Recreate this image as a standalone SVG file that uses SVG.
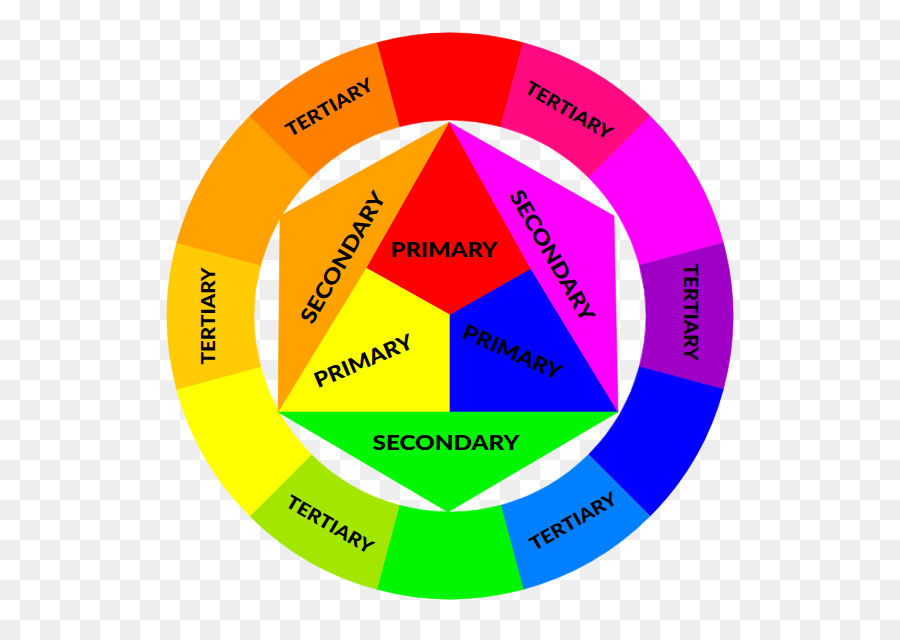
<svg xmlns="http://www.w3.org/2000/svg" width="900" height="640" viewBox="0 0 900 640">
  <defs>
    <pattern id="checker" x="0" y="0" width="40" height="40" patternUnits="userSpaceOnUse">
      <rect width="40" height="40" fill="#ffffff"/>
      <rect x="20" y="0" width="20" height="20" fill="#eeeeee"/>
      <rect x="0" y="20" width="20" height="20" fill="#eeeeee"/>
    </pattern>
    <style>
      .lbl { font-family: Lato, "Open Sans", "Liberation Sans", sans-serif; font-weight: 900; fill: #000000; text-anchor: middle; dominant-baseline: central; }
      .in { font-size: 21px; }
      .ter { font-size: 18.5px; }
      .seg { stroke-width: 0.6; }
    </style>
  </defs>
  <rect id="background" x="0" y="0" width="900" height="640" fill="url(#checker)"/>

  <g id="ring">
    <g id="seg-red"><path class="seg" fill="#ff0000" stroke="#ff0000" d="M376.754 42.643 A283 283 0 0 1 523.246 42.643 L500.729 126.679 A196 196 0 0 0 399.271 126.679 Z"/></g>
    <g id="seg-red-violet"><path class="seg" fill="#ff0a80" stroke="#ff0a80" d="M523.246 42.643 A283 283 0 0 1 650.111 115.889 L588.593 177.407 A196 196 0 0 0 500.729 126.679 Z"/></g>
    <g id="seg-violet"><path class="seg" fill="#ff00ff" stroke="#ff00ff" d="M650.111 115.889 A283 283 0 0 1 723.357 242.754 L639.321 265.271 A196 196 0 0 0 588.593 177.407 Z"/></g>
    <g id="seg-purple"><path class="seg" fill="#a000c6" stroke="#a000c6" d="M723.357 242.754 A283 283 0 0 1 723.357 389.246 L639.321 366.729 A196 196 0 0 0 639.321 265.271 Z"/></g>
    <g id="seg-blue"><path class="seg" fill="#0000ff" stroke="#0000ff" d="M723.357 389.246 A283 283 0 0 1 650.111 516.111 L588.593 454.593 A196 196 0 0 0 639.321 366.729 Z"/></g>
    <g id="seg-blue-green"><path class="seg" fill="#0080ff" stroke="#0080ff" d="M650.111 516.111 A283 283 0 0 1 523.246 589.357 L500.729 505.321 A196 196 0 0 0 588.593 454.593 Z"/></g>
    <g id="seg-green"><path class="seg" fill="#00f500" stroke="#00f500" d="M523.246 589.357 A283 283 0 0 1 376.754 589.357 L399.271 505.321 A196 196 0 0 0 500.729 505.321 Z"/></g>
    <g id="seg-yellow-green"><path class="seg" fill="#a3e600" stroke="#a3e600" d="M376.754 589.357 A283 283 0 0 1 249.889 516.111 L311.407 454.593 A196 196 0 0 0 399.271 505.321 Z"/></g>
    <g id="seg-yellow"><path class="seg" fill="#ffff00" stroke="#ffff00" d="M249.889 516.111 A283 283 0 0 1 176.643 389.246 L260.679 366.729 A196 196 0 0 0 311.407 454.593 Z"/></g>
    <g id="seg-yellow-orange"><path class="seg" fill="#ffcb05" stroke="#ffcb05" d="M176.643 389.246 A283 283 0 0 1 176.643 242.754 L260.679 265.271 A196 196 0 0 0 260.679 366.729 Z"/></g>
    <g id="seg-orange"><path class="seg" fill="#ffa200" stroke="#ffa200" d="M176.643 242.754 A283 283 0 0 1 249.889 115.889 L311.407 177.407 A196 196 0 0 0 260.679 265.271 Z"/></g>
    <g id="seg-red-orange"><path class="seg" fill="#ff8000" stroke="#ff8000" d="M249.889 115.889 A283 283 0 0 1 376.754 42.643 L399.271 126.679 A196 196 0 0 0 311.407 177.407 Z"/></g>
  </g>

  <g id="inner">
    <g id="primary-red"><polygon class="seg" fill="#ff0000" stroke="#ff0000" points="449,122 366,268 450,315 531,269"/></g>
    <g id="primary-yellow"><polygon class="seg" fill="#ffff00" stroke="#ffff00" points="366,268 450,315 450,412 278,412"/></g>
    <g id="primary-blue"><polygon class="seg" fill="#0000ff" stroke="#0000ff" points="450,315 531,269 618,412 450,412"/></g>
    <g id="secondary-orange"><polygon class="seg" fill="#ffa200" stroke="#ffa200" points="449,122 280,216 278,412 366,268"/></g>
    <g id="secondary-violet"><polygon class="seg" fill="#ff00ff" stroke="#ff00ff" points="449,122 614,216 618,412 531,269"/></g>
    <g id="secondary-green"><polygon class="seg" fill="#00f500" stroke="#00f500" points="278,412 618,412 448,512"/></g>
  </g>

  <g id="labels">
    <text class="lbl in" x="444" y="248" textLength="107" lengthAdjust="spacingAndGlyphs">PRIMARY</text>
    <text class="lbl in" transform="translate(363 360) rotate(-23)" x="0" y="0" textLength="105" lengthAdjust="spacingAndGlyphs">PRIMARY</text>
    <text class="lbl in" transform="translate(513 351) rotate(24)" x="0" y="0" textLength="106" lengthAdjust="spacingAndGlyphs">PRIMARY</text>
    <text class="lbl in" transform="translate(342 257) rotate(-60)" x="0" y="0" textLength="148" lengthAdjust="spacingAndGlyphs">SECONDARY</text>
    <text class="lbl in" transform="translate(553 255) rotate(60)" x="0" y="0" textLength="148" lengthAdjust="spacingAndGlyphs">SECONDARY</text>
    <text class="lbl in" x="446" y="441" textLength="147" lengthAdjust="spacingAndGlyphs">SECONDARY</text>
    <text class="lbl ter" transform="translate(329 107) rotate(-30)" x="0" y="0" textLength="97" lengthAdjust="spacingAndGlyphs">TERTIARY</text>
    <text class="lbl ter" transform="translate(569 110) rotate(30)" x="0" y="0" textLength="97" lengthAdjust="spacingAndGlyphs">TERTIARY</text>
    <text class="lbl ter" transform="translate(208 316) rotate(-90)" x="0" y="0" textLength="97" lengthAdjust="spacingAndGlyphs">TERTIARY</text>
    <text class="lbl ter" transform="translate(691 312) rotate(90)" x="0" y="0" textLength="97" lengthAdjust="spacingAndGlyphs">TERTIARY</text>
    <text class="lbl ter" transform="translate(330 524) rotate(30)" x="0" y="0" textLength="97" lengthAdjust="spacingAndGlyphs">TERTIARY</text>
    <text class="lbl ter" transform="translate(573 521) rotate(-30)" x="0" y="0" textLength="97" lengthAdjust="spacingAndGlyphs">TERTIARY</text>
  </g>
</svg>
